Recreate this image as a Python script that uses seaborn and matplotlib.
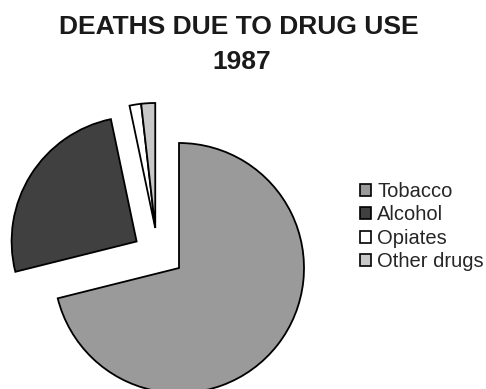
import matplotlib
matplotlib.use("Agg")
import matplotlib.pyplot as plt
from matplotlib.patches import Patch
import seaborn as sns

# ---- data ----
categories = ["Tobacco", "Alcohol", "Opiates", "Other drugs"]
shares = [71.1, 25.6, 1.5, 1.8]          # percent of deaths
colors = ["#9a9a9a", "#404040", "#ffffff", "#c8c8c8"]
title_line1 = "DEATHS DUE TO DRUG USE"
title_line2 = "1987"

sns.set_theme(style="white")
plt.rcParams["font.family"] = ["Liberation Sans", "DejaVu Sans"]

fig = plt.figure(figsize=(4.86, 3.89), dpi=100)
ax = fig.add_axes([0, 0, 1, 1])

total = sum(shares)
frac = [s / total for s in shares]
wp = dict(edgecolor="black", linewidth=1.3)

# main pie: Tobacco + exploded Alcohol
ax.pie(frac[:2], normalize=False, startangle=90, counterclock=False,
       explode=[0, 0.40], colors=colors[:2], wedgeprops=wp)
# small slices pulled out together
ax.pie(frac[2:], normalize=False,
       startangle=90 - 360 * (frac[0] + frac[1]), counterclock=False,
       center=(-0.19, 0.32), colors=colors[2:], wedgeprops=wp)

ax.set_xlim(-1.432, 2.456)
ax.set_ylim(-0.968, 2.144)
ax.set_aspect("equal")
ax.axis("off")

fig.text(0.491, 1 - 27.5 / 389, title_line1, ha="center", va="center",
         fontsize=19, fontweight="bold", color="#1a1a1a")
fig.text(0.498, 1 - 62 / 389, title_line2, ha="center", va="center",
         fontsize=19, fontweight="bold", color="#1a1a1a")

handles = [Patch(facecolor=c, edgecolor="black", linewidth=1.2) for c in colors]
fig.legend(handles, categories, loc="upper left",
           bbox_to_anchor=(360 / 486, 1 - 182 / 389), frameon=False,
           fontsize=14.5, handlelength=0.55, handleheight=0.55,
           handletextpad=0.3, labelspacing=0.22, borderpad=0,
           borderaxespad=0)

fig.savefig("out.png", dpi=100)
